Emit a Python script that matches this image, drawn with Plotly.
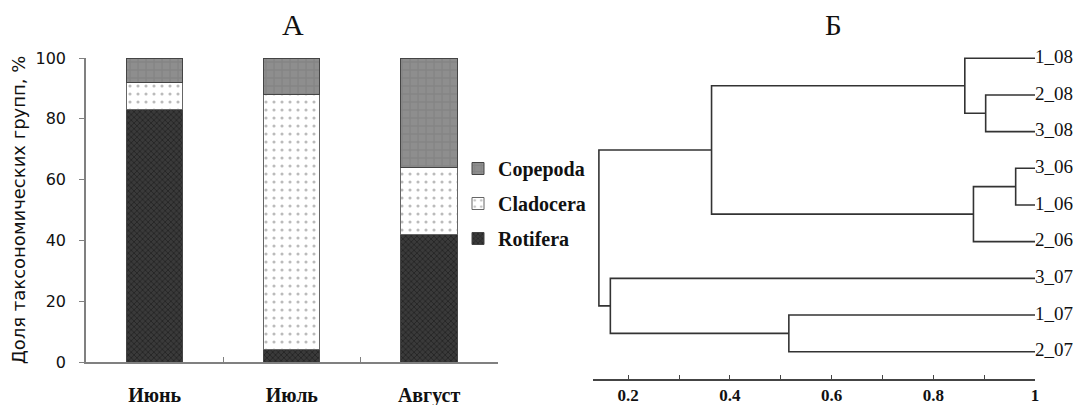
import plotly.graph_objects as go

# ---- Panel A data ----
months = ["Июнь", "Июль", "Август"]
rotifera = [83, 4, 42]
cladocera = [9, 84, 22]
copepoda = [8, 12, 36]

# ---- Panel B data (dendrogram) ----
leaves = ["1_08", "2_08", "3_08", "3_06", "1_06", "2_06", "3_07", "1_07", "2_07"]
leaf_level = 1.0
# merges: (child_a, child_b, similarity level); children are leaf names or merge ids
merges = [
    ("2_08", "3_08", 0.903),
    ("1_08", "m0", 0.862),
    ("3_06", "1_06", 0.962),
    ("m2", "2_06", 0.879),
    ("m1", "m3", 0.364),
    ("1_07", "2_07", 0.516),
    ("3_07", "m5", 0.165),
    ("m4", "m6", 0.1425),
]
x_ticks = [0.2, 0.3, 0.4, 0.5, 0.6, 0.7, 0.8, 0.9, 1.0]
x_ticktext = ["0.2", "", "0.4", "", "0.6", "", "0.8", "", "1"]

# page has an 8px body margin; figure sized so it fills the window
OFF = 8
W, H = 1081 - OFF, 405 - OFF


def fx(x):
    return (x - OFF) / W


def fy(y):
    return 1 - (y - OFF) / H


fig = go.Figure()

serif = "Liberation Serif"
sans = "DejaVu Sans"

fig.add_trace(go.Bar(
    x=months, y=rotifera, name="Rotifera", xaxis="x", yaxis="y", legendgroup="r",
    legendrank=3,
    marker=dict(color="#2e2e2e", line=dict(color="#444", width=1),
                pattern=dict(shape="x", fgcolor="#111", bgcolor="#3a3a3a", size=4, solidity=0.4)),
    width=0.41,
))
fig.add_trace(go.Bar(
    x=months, y=cladocera, name="Cladocera", xaxis="x", yaxis="y", legendgroup="cl",
    legendrank=2,
    marker=dict(color="white", line=dict(color="#666", width=1),
                pattern=dict(shape=".", fgcolor="#777", bgcolor="white", size=8, solidity=0.12)),
    width=0.41,
))
fig.add_trace(go.Bar(
    x=months, y=copepoda, name="Copepoda", xaxis="x", yaxis="y", legendgroup="co",
    legendrank=1,
    marker=dict(color="#8a8a8a", line=dict(color="#444", width=1),
                pattern=dict(shape="+", fgcolor="#7a7a7a", bgcolor="#8e8e8e", size=8, solidity=0.3)),
    width=0.41,
))

# ---- dendrogram geometry from data ----
pos = {name: (leaf_level, i) for i, name in enumerate(leaves)}
lx, ly = [], []
for k, (a, b, h) in enumerate(merges):
    xa, ya = pos[a]
    xb, yb = pos[b]
    lx += [xa, h, h, xb, None]
    ly += [ya, ya, yb, yb, None]
    pos["m%d" % k] = (h, (ya + yb) / 2)

fig.add_trace(go.Scatter(
    x=lx, y=ly, mode="lines", xaxis="x2", yaxis="y2",
    line=dict(color="#333", width=1.6), showlegend=False, hoverinfo="skip",
))
fig.add_trace(go.Scatter(
    x=[leaf_level] * len(leaves), y=list(range(len(leaves))), text=leaves,
    mode="text", textposition="middle right", xaxis="x2", yaxis="y2",
    textfont=dict(family=serif, size=19, color="#111"), showlegend=False,
    cliponaxis=False, hoverinfo="skip",
))

fig.update_layout(
    width=W, height=H,
    margin=dict(l=0, r=0, t=0, b=0, autoexpand=False),
    paper_bgcolor="white", plot_bgcolor="white",
    barmode="stack",
    showlegend=True,
    legend=dict(x=fx(458), y=fy(149), xanchor="left", yanchor="top",
                font=dict(family=serif, size=20, color="#111", weight="bold"),
                traceorder="grouped", tracegroupgap=6,
                bgcolor="rgba(0,0,0,0)"),
    xaxis=dict(domain=[fx(86), fx(497.7)], type="category", range=[-0.5, 2.5],
               automargin=False,
               showline=True, linecolor="#808080", linewidth=1.5,
               ticks="inside", tickson="boundaries", ticklen=5, tickcolor="#808080",
               ticklabelstandoff=14,
               tickfont=dict(family=serif, size=20, color="#111", weight="bold"),
               showgrid=False, zeroline=False),
    yaxis=dict(domain=[fy(362), fy(58)], range=[0, 100],
               automargin=False,
               tickvals=[0, 20, 40, 60, 80, 100],
               showline=True, linecolor="#808080", linewidth=1.5,
               ticks="outside", ticklen=5, tickcolor="#808080",
               ticklabelstandoff=10,
               tickfont=dict(family=sans, size=16, color="#111"),
               title=dict(text="Доля таксономических групп, %", standoff=14,
                          font=dict(family=sans, size=18, color="#111")),
               showgrid=False, zeroline=False),
    xaxis2=dict(domain=[fx(592.7), fx(1035)], range=[0.1303, 1.0], anchor="y2",
                automargin=False,
                showline=True, linecolor="#444", linewidth=1.6,
                tickvals=x_ticks, ticktext=x_ticktext,
                ticks="inside", ticklen=4, tickcolor="#444",
                tickfont=dict(family=serif, size=17, color="#111", weight="bold"),
                showgrid=False, zeroline=False),
    yaxis2=dict(domain=[fy(378.5), fy(40)], range=[8.731, -0.499], anchor="x2",
                automargin=False,
                visible=False, showgrid=False, zeroline=False),
    annotations=[
        dict(text="А", x=fx(293), y=fy(24), xref="paper", yref="paper",
             xanchor="center", yanchor="middle",
             showarrow=False, font=dict(family=serif, size=30, color="#111")),
        dict(text="Б", x=fx(833), y=fy(25), xref="paper", yref="paper",
             xanchor="center", yanchor="middle",
             showarrow=False, font=dict(family=serif, size=29, color="#111")),
    ],
)

fig.write_html("out.html")
